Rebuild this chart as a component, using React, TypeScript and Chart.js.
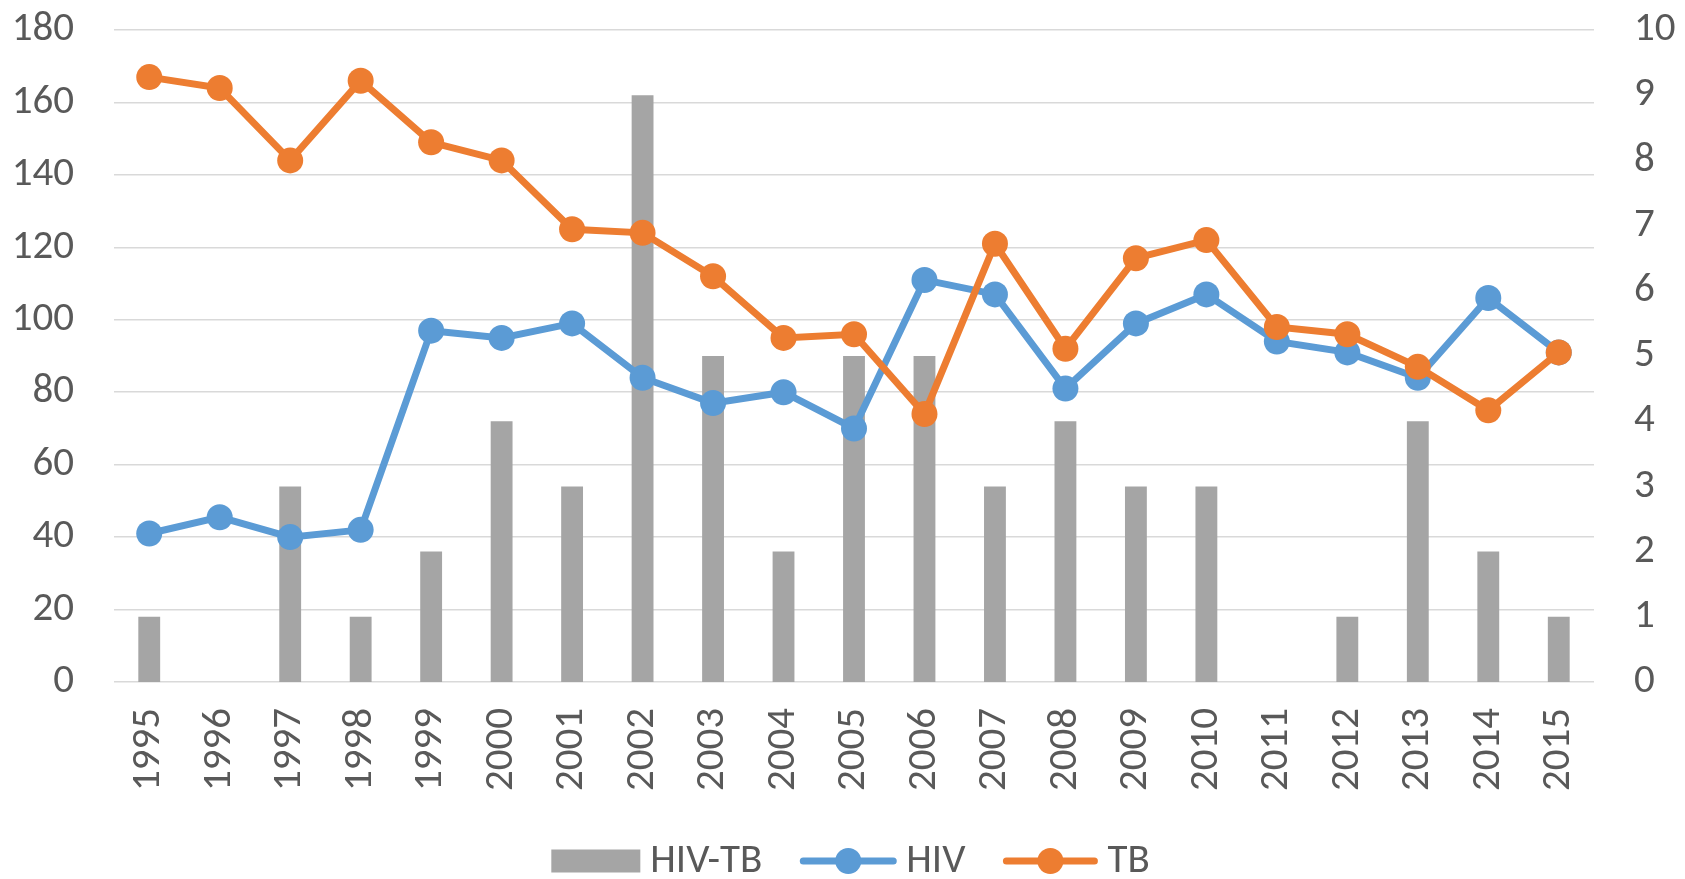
import React, { useEffect, useRef } from "react";
import { Chart, registerables } from "chart.js";

Chart.register(...registerables);

const categories = ["1995","1996","1997","1998","1999","2000","2001","2002","2003","2004","2005","2006","2007","2008","2009","2010","2011","2012","2013","2014","2015"];
const hivTbValues = [1, 0, 3, 1, 2, 4, 3, 9, 5, 2, 5, 5, 3, 4, 3, 3, 0, 1, 4, 2, 1];
const hivValues = [41, 45.5, 40, 42, 97, 95, 99, 84, 77, 80, 70, 111, 107, 81, 99, 107, 94, 91, 84, 106, 91];
const tbValues = [167, 164, 144, 166, 149, 144, 125, 124, 112, 95, 96, 74, 121, 92, 117, 122, 98, 96, 87, 75, 91];
const leftTicks = { min: 0, max: 180, step: 20 };
const rightTicks = { min: 0, max: 10, step: 1 };

const GRAY = "#A5A5A5";
const BLUE = "#5B9BD5";
const ORANGE = "#ED7D31";
const TEXT = "#595959";
const GRID = "#D9D9D9";
const FONT = "Carlito, Lato, 'Open Sans', sans-serif";
const FONT_SIZE = 41;

const legendPlugin = {
  id: "customLegend",
  afterDraw(chart: any) {
    const ctx = chart.ctx;
    const items = [
      { type: "bar", w: 89, label: "HIV-TB", color: GRAY },
      { type: "line", w: 96, label: "HIV", color: BLUE },
      { type: "line", w: 94, label: "TB", color: ORANGE },
    ];
    ctx.save();
    ctx.font = `${FONT_SIZE}px ${FONT}`;
    const gapText = 10;
    const gapItem = 38;
    let total = 0;
    items.forEach((it, i) => {
      total += it.w + gapText + ctx.measureText(it.label).width;
      if (i < items.length - 1) total += gapItem;
    });
    let x = (chart.width - total) / 2 + 8;
    const cy = 861;
    items.forEach((it) => {
      if (it.type === "bar") {
        ctx.fillStyle = it.color;
        ctx.fillRect(x, cy - 11.5, it.w, 23);
      } else {
        ctx.strokeStyle = it.color;
        ctx.lineWidth = 7;
        ctx.lineCap = "round";
        ctx.beginPath();
        ctx.moveTo(x + 3, cy);
        ctx.lineTo(x + it.w - 3, cy);
        ctx.stroke();
        ctx.fillStyle = it.color;
        ctx.beginPath();
        ctx.arc(x + it.w / 2, cy, 13, 0, Math.PI * 2);
        ctx.fill();
      }
      x += it.w + gapText;
      ctx.fillStyle = TEXT;
      ctx.textBaseline = "middle";
      ctx.textAlign = "left";
      ctx.fillText(it.label, x, cy + 1);
      x += ctx.measureText(it.label).width + gapItem;
    });
    ctx.restore();
  },
};

export default function App() {
  const canvasRef = useRef<HTMLCanvasElement | null>(null);

  useEffect(() => {
    document.body.style.margin = "0";
    const canvas = canvasRef.current;
    if (!canvas) return;
    const chart = new Chart(canvas, {
      type: "bar",
      data: {
        labels: categories,
        datasets: [
          {
            type: "line",
            label: "TB",
            data: tbValues,
            yAxisID: "y",
            borderColor: ORANGE,
            backgroundColor: ORANGE,
            borderWidth: 7,
            pointRadius: 13,
            pointBorderWidth: 0,
            pointBackgroundColor: ORANGE,
            tension: 0,
            order: 1,
          } as any,
          {
            type: "line",
            label: "HIV",
            data: hivValues,
            yAxisID: "y",
            borderColor: BLUE,
            backgroundColor: BLUE,
            borderWidth: 7,
            pointRadius: 13,
            pointBorderWidth: 0,
            pointBackgroundColor: BLUE,
            tension: 0,
            order: 2,
          } as any,
          {
            type: "bar",
            label: "HIV-TB",
            data: hivTbValues,
            yAxisID: "y1",
            backgroundColor: GRAY,
            barPercentage: 0.31,
            categoryPercentage: 1,
            order: 3,
          } as any,
        ],
      },
      options: {
        animation: false,
        responsive: true,
        maintainAspectRatio: false,
        layout: { padding: { top: 30, left: 0, right: 0, bottom: 0 } },
        plugins: { legend: { display: false }, tooltip: { enabled: false } },
        scales: {
          x: {
            grid: { display: false, drawTicks: false },
            border: { display: false },
            ticks: {
              color: TEXT,
              font: { family: FONT, size: FONT_SIZE },
              minRotation: 90,
              maxRotation: 90,
              padding: 26,
              autoSkip: false,
            },
            afterFit: (s: any) => {
              s.height = 197;
              s.paddingLeft = 0;
              s.paddingRight = 0;
            },
          },
          y: {
            position: "left",
            min: leftTicks.min,
            max: leftTicks.max,
            grid: { color: GRID, lineWidth: 1.5, drawTicks: false },
            border: { display: false },
            ticks: {
              stepSize: leftTicks.step,
              color: TEXT,
              font: { family: FONT, size: FONT_SIZE },
              padding: 40,
            },
            afterFit: (s: any) => {
              s.width = 114;
              s.paddingTop = 0;
              s.paddingBottom = 0;
            },
          },
          y1: {
            position: "right",
            min: rightTicks.min,
            max: rightTicks.max,
            grid: { display: false, drawTicks: false },
            border: { display: false },
            ticks: {
              stepSize: rightTicks.step,
              color: TEXT,
              font: { family: FONT, size: FONT_SIZE },
              padding: 40,
            },
            afterFit: (s: any) => {
              s.width = 91;
              s.paddingTop = 0;
              s.paddingBottom = 0;
            },
          },
        },
      },
      plugins: [legendPlugin],
    });
    return () => chart.destroy();
  }, []);

  return (
    <div style={{ position: "fixed", left: 0, top: 0, width: "1685px", height: "879px", background: "#fff" }}>
      <canvas ref={canvasRef} />
    </div>
  );
}
